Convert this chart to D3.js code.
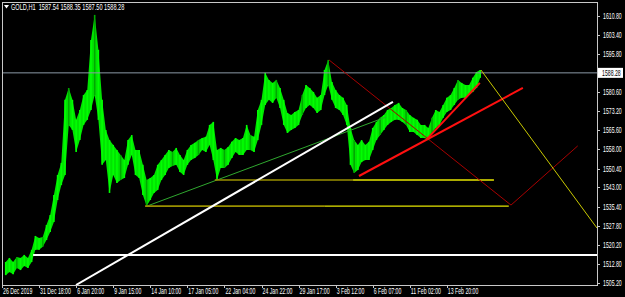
<!DOCTYPE html>
<html>
<head>
<meta charset="utf-8">
<script src="https://cdn.jsdelivr.net/npm/d3@7"></script>
<style>
html, body { margin: 0; padding: 0; background: #000; }
svg { display: block; }
text { font-family: "Liberation Sans", Arial, sans-serif; font-size: 8.5px; fill: #fff; }
</style>
</head>
<body>
<svg width="625" height="297"></svg>
<script>
// GOLD H1 bars, one entry per bar slot starting at slot 1
const highs = [
  1513.5, 1515.1, 1513.5, 1515.5, 1515.1, 1516.3, 1515.1, 1518.3, 1523.8, 1523.0,
  1523.4, 1528.1, 1532.1, 1540.0, 1547.9, 1552.7, 1577.6, 1582.3, 1577.6, 1569.7,
  1573.6, 1579.5, 1581.5, 1601.3, 1611.2, 1597.4, 1577.6, 1565.7, 1561.7, 1559.8,
  1557.8, 1555.8, 1553.8, 1561.7, 1563.7, 1557.8, 1557.8, 1551.9, 1545.9, 1546.7,
  1547.9, 1551.9, 1553.8, 1555.8, 1557.8, 1557.0, 1558.6, 1555.8, 1553.8, 1557.8,
  1559.8, 1560.6, 1561.7, 1562.5, 1563.0, 1567.7, 1568.9, 1557.8, 1558.6, 1557.8,
  1559.0, 1561.0, 1562.5, 1561.7, 1562.5, 1567.7, 1563.7, 1563.0, 1573.6, 1577.6,
  1588.3, 1585.5, 1584.3, 1585.5, 1582.3, 1577.6, 1572.4, 1571.6, 1572.8, 1573.6,
  1579.5, 1583.5, 1582.3, 1580.7, 1578.4, 1579.5, 1589.4, 1593.4, 1584.7, 1581.5,
  1579.5, 1578.4, 1575.6, 1566.5, 1561.7, 1559.8, 1561.7, 1559.8, 1561.0, 1566.5,
  1568.9, 1570.5, 1571.6, 1573.6, 1574.4, 1575.6, 1576.4, 1574.4, 1573.6, 1571.6,
  1570.5, 1569.7, 1567.7, 1567.7, 1566.5, 1570.5, 1573.6, 1572.8, 1575.6, 1578.4,
  1579.5, 1582.3, 1585.5, 1584.3, 1583.5, 1583.5, 1586.3, 1588.6, 1589.4
];
const lows = [
  1508.3, 1509.5, 1508.7, 1511.1, 1510.3, 1511.9, 1511.1, 1513.5, 1518.3, 1518.3,
  1519.5, 1522.2, 1525.4, 1529.3, 1538.0, 1543.9, 1547.9, 1567.7, 1565.7, 1557.0,
  1561.7, 1567.7, 1569.7, 1573.6, 1579.5, 1569.7, 1551.9, 1553.8, 1540.8, 1547.9,
  1544.7, 1545.9, 1546.7, 1551.9, 1555.8, 1547.9, 1546.7, 1540.0, 1535.6, 1538.0,
  1540.8, 1542.0, 1545.9, 1547.9, 1550.7, 1551.5, 1551.9, 1549.1, 1547.9, 1551.9,
  1553.8, 1554.6, 1555.8, 1557.8, 1557.0, 1559.8, 1553.8, 1545.9, 1550.7, 1550.7,
  1551.9, 1554.6, 1557.0, 1555.8, 1555.8, 1557.8, 1557.8, 1557.0, 1561.7, 1567.7,
  1575.6, 1577.6, 1576.4, 1578.4, 1574.4, 1567.7, 1564.5, 1565.7, 1566.5, 1567.7,
  1571.6, 1574.4, 1575.6, 1574.4, 1572.4, 1573.6, 1579.5, 1583.5, 1577.6, 1574.4,
  1573.6, 1571.6, 1567.7, 1551.9, 1548.7, 1549.9, 1553.0, 1553.8, 1553.8, 1557.8,
  1561.7, 1563.7, 1565.7, 1567.7, 1568.9, 1569.7, 1569.7, 1568.9, 1567.7, 1564.9,
  1564.9, 1563.7, 1562.5, 1562.5, 1561.7, 1564.5, 1566.5, 1567.7, 1570.5, 1572.8,
  1573.6, 1575.6, 1577.6, 1578.4, 1578.4, 1579.5, 1580.7, 1582.3, 1586.3
];
const firstSlot = 1;

const dateLabels = ["26 Dec 2019", "31 Dec 18:00", "6 Jan 20:00", "9 Jan 15:00", "14 Jan 10:00",
  "17 Jan 05:00", "22 Jan 04:00", "24 Jan 22:00", "29 Jan 17:00", "3 Feb 12:00",
  "6 Feb 07:00", "11 Feb 02:00", "13 Feb 20:00"];
const dateSlots = [0, 10, 20, 30, 40, 50, 60, 70, 80, 90, 100, 110, 120];

const priceTicks = [1610.80, 1603.40, 1595.80, 1580.60, 1573.20, 1565.60, 1558.00,
  1550.40, 1543.00, 1535.40, 1527.80, 1520.20, 1512.80, 1505.20];
const bidPrice = 1588.28;
const title = "GOLD,H1  1587.54 1588.35 1587.50 1588.28";

// drawn objects: [slot, price] anchors
const hLineWhite = { from: 8.4, price: 1516.3 };
const trendWhite = [[19.96, 1504.4], [105.45, 1576.8]];
const trendGreen = [[39.1, 1535.6], [103.56, 1570.8]];
const levelLow = [[38.6, 1535.6], [87.1, 1535.6], [136.7, 1535.6]];
const levelHigh = [[57.4, 1545.9], [94.7, 1545.9], [132.7, 1545.9]];
const zigzagRed = [[88.2, 1593.4], [137.3, 1536.0], [155.3, 1559.4]];
const rayRed1 = [[96.3, 1547.5], [140.5, 1582.3]];
const rayRed2 = [[114.6, 1562.1], [128.9, 1584.3]];
const projYellow = [[129.2, 1589.4], [160.5, 1526.9]];

const svg = d3.select("svg");
const pLeft = 2, pRight = 597, pTop = 2, pBottom = 285;

const x = d3.scaleLinear().domain([0, 160.5]).range([pLeft, pRight]);
const y = d3.scaleLinear().domain([1504.4, 1616.3]).range([pBottom, pTop]);

// narrow terminal-style text: squeeze horizontally with a transform
const condense = 0.61;
function label(parent, tx, ty, str, k) {
  return parent.append("text")
    .attr("transform", `translate(${tx},${ty}) scale(${k || condense},1)`)
    .attr("xml:space", "preserve")
    .text(str);
}

svg.append("rect").attr("width", 625).attr("height", 297).attr("fill", "#000");

svg.append("clipPath").attr("id", "plot")
  .append("rect").attr("x", pLeft).attr("y", pTop).attr("width", pRight - pLeft).attr("height", pBottom - pTop);

const plot = svg.append("g").attr("clip-path", "url(#plot)");

const bars = highs.map((h, i) => ({ slot: firstSlot + i, hi: h, lo: lows[i] }));

// price band
plot.append("path")
  .datum(bars)
  .attr("fill", "#00e400")
  .attr("d", d3.area().x(d => x(d.slot)).y0(d => y(d.lo)).y1(d => y(d.hi)));

plot.append("g")
  .selectAll("line")
  .data(bars)
  .join("line")
  .attr("x1", d => x(d.slot)).attr("x2", d => x(d.slot))
  .attr("y1", d => y(d.hi)).attr("y2", d => y(d.lo))
  .attr("stroke", (d, i) => i % 7 === 3 ? "#00a800" : "#00ff00")
  .attr("stroke-width", 1.6);

const line = d3.line().x(d => x(d[0])).y(d => y(d[1]));

// levels and trend lines
plot.append("line")
  .attr("x1", x(0)).attr("x2", pRight)
  .attr("y1", y(bidPrice)).attr("y2", y(bidPrice))
  .attr("stroke", "#8c9aa6").attr("stroke-width", 1);

plot.append("line")
  .attr("x1", x(hLineWhite.from)).attr("x2", pRight)
  .attr("y1", y(hLineWhite.price)).attr("y2", y(hLineWhite.price))
  .attr("stroke", "#fff").attr("stroke-width", 2);

plot.append("path").attr("d", line(trendGreen))
  .attr("fill", "none").attr("stroke", "#2fa82f").attr("stroke-width", 1);

plot.append("path").attr("d", line(levelLow.slice(0, 2)))
  .attr("fill", "none").attr("stroke", "#9a9000").attr("stroke-width", 1.6);
plot.append("path").attr("d", line(levelLow.slice(1)))
  .attr("fill", "none").attr("stroke", "#e6e600").attr("stroke-width", 1.4);
plot.append("path").attr("d", line(levelHigh.slice(0, 2)))
  .attr("fill", "none").attr("stroke", "#9a9000").attr("stroke-width", 1.6);
plot.append("path").attr("d", line(levelHigh.slice(1)))
  .attr("fill", "none").attr("stroke", "#e6e600").attr("stroke-width", 1.4);

plot.append("path").attr("d", line(zigzagRed))
  .attr("fill", "none").attr("stroke", "#a80000").attr("stroke-width", 1);

plot.append("path").attr("d", line(trendWhite))
  .attr("fill", "none").attr("stroke", "#fff").attr("stroke-width", 2);

plot.append("path").attr("d", line(rayRed1))
  .attr("fill", "none").attr("stroke", "#ff1010").attr("stroke-width", 2);
plot.append("path").attr("d", line(rayRed2))
  .attr("fill", "none").attr("stroke", "#ff1010").attr("stroke-width", 2);

plot.append("path").attr("d", line(projYellow))
  .attr("fill", "none").attr("stroke", "#c8c800").attr("stroke-width", 1);

// frame
svg.append("rect")
  .attr("x", pLeft + 0.5).attr("y", pTop + 0.5)
  .attr("width", pRight - pLeft).attr("height", pBottom - pTop)
  .attr("fill", "none").attr("stroke", "#c8c8c8").attr("stroke-width", 1);

// price axis
const pAxis = svg.append("g");
pAxis.selectAll("line")
  .data(priceTicks)
  .join("line")
  .attr("x1", pRight).attr("x2", pRight + 3)
  .attr("y1", d => Math.round(y(d)) + 0.5).attr("y2", d => Math.round(y(d)) + 0.5)
  .attr("stroke", "#c8c8c8");
priceTicks.forEach(p => label(pAxis, pRight + 6, y(p) + 3, p.toFixed(2)));

const bidY = y(bidPrice);
svg.append("rect")
  .attr("x", pRight + 1).attr("y", bidY - 5).attr("width", 25).attr("height", 10)
  .attr("fill", "#fff");
label(svg, pRight + 5, bidY + 3, bidPrice.toFixed(2)).style("fill", "#000");

// time axis
const tAxis = svg.append("g");
tAxis.selectAll("line")
  .data(dateSlots)
  .join("line")
  .attr("x1", d => Math.round(x(d)) + 0.5).attr("x2", d => Math.round(x(d)) + 0.5)
  .attr("y1", pBottom).attr("y2", pBottom + 3)
  .attr("stroke", "#c8c8c8");
dateLabels.forEach((d, i) => label(tAxis, x(dateSlots[i]) + 1, 294, d));

// title
svg.append("path")
  .attr("d", "M4,5 L9,5 L6.5,8.5 Z")
  .attr("fill", "#fff");
label(svg, 11, 10, title, 0.66);
</script>
</body>
</html>
